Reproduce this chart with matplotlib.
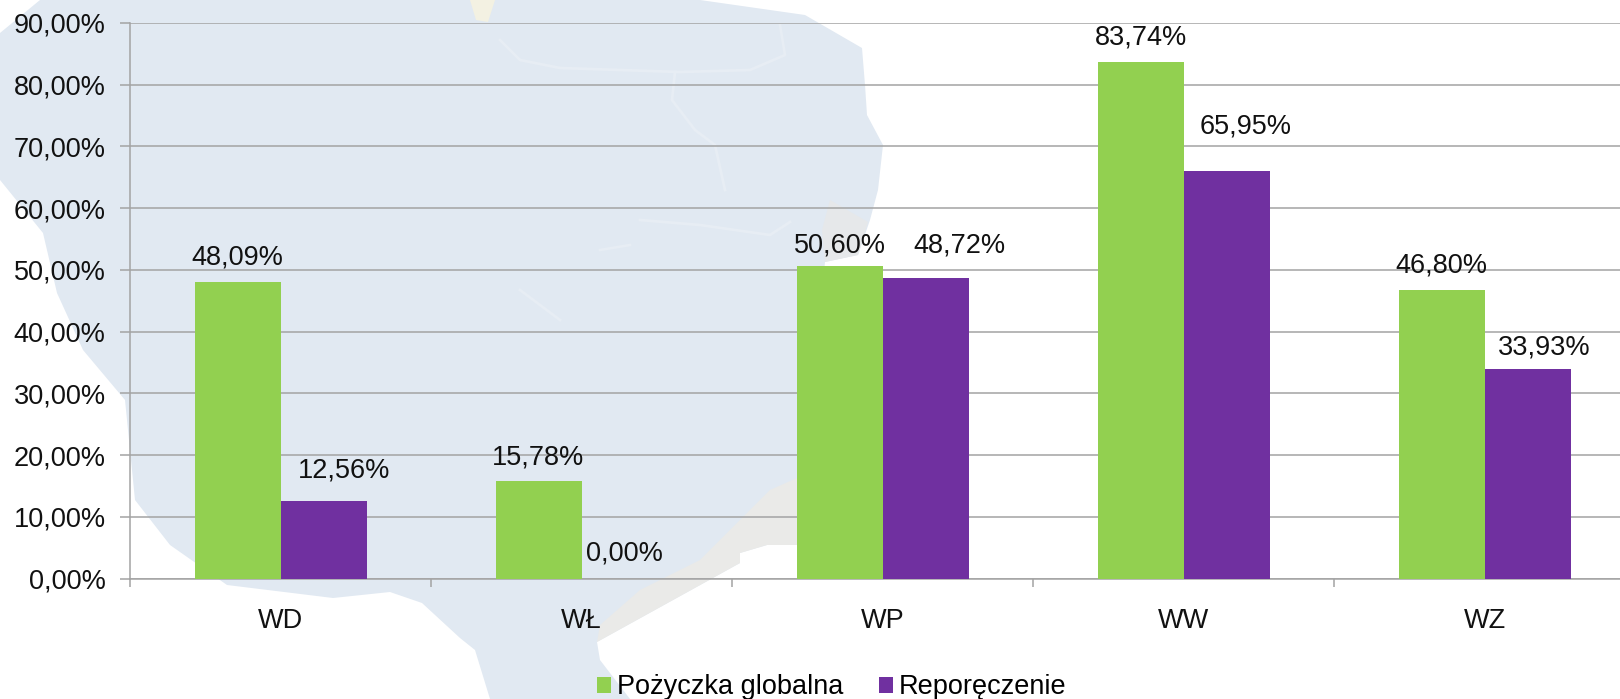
# coding=utf-8
import numpy as np
import matplotlib
matplotlib.use('Agg')
import matplotlib.pyplot as plt
from matplotlib.patches import Polygon

plt.rcParams['font.family'] = ['Liberation Sans', 'DejaVu Sans']

categories = ['WD', 'WŁ', 'WP', 'WW', 'WZ']
pozyczka = [48.09, 15.78, 50.60, 83.74, 46.80]
reporeczenie = [12.56, 0.00, 48.72, 65.95, 33.93]
y_ticks = [0, 10, 20, 30, 40, 50, 60, 70, 80, 90]

# label offsets in px from top centre of the bar (by eye)
off_poz = [(0, 17), (0, 17), (0, 14), (0, 17), (0, 17)]
off_rep = [(21, 23), (0, 18), (34, 25), (19, 38), (17, 15)]

# map in the background, figure pixels
map_outline = [(40, 0), (700, 0), (805, 15), (862, 48), (865, 85), (867, 115), (883, 145),
               (878, 190), (870, 220), (858, 255), (825, 262), (812, 400), (797, 480),
               (797, 545), (767, 545), (740, 553), (740, 563), (597, 642), (600, 660),
               (630, 699), (490, 699), (475, 650), (460, 638), (422, 603), (390, 592),
               (333, 598), (227, 585), (170, 545), (135, 500), (125, 400), (83, 350),
               (57, 293), (43, 233), (0, 180), (0, 33)]
map_shade = [(597, 642), (740, 563), (740, 553), (767, 545), (797, 545), (797, 478),
             (770, 490), (700, 560), (640, 590), (600, 625)]
map_shade2 = [(825, 262), (858, 255), (868, 222), (830, 200), (822, 230)]
map_top = [(470, 0), (495, 0), (488, 22), (476, 20)]
rivers = [[(500, 40), (520, 60), (560, 68), (620, 70), (680, 72), (750, 70), (785, 55), (780, 25)],
          [(675, 72), (672, 100), (695, 130), (715, 145), (725, 190)],
          [(640, 220), (700, 225), (770, 235), (790, 222)],
          [(600, 250), (630, 245)],
          [(520, 290), (560, 320)]]

fig = plt.figure(figsize=(16.2, 6.99), dpi=100)

bg = fig.add_axes([0, 0, 1, 1], zorder=0)
bg.set_xlim(0, 1620)
bg.set_ylim(699, 0)
bg.axis('off')
bg.add_patch(Polygon(map_outline, closed=True, fc='#E1E9F2', ec='none'))
bg.add_patch(Polygon(map_shade, closed=True, fc='#EAEAE8', ec='none'))
bg.add_patch(Polygon(map_shade2, closed=True, fc='#E6E8EA', ec='none'))
bg.add_patch(Polygon(map_top, closed=True, fc='#F3F1E2', ec='none'))
for r in rivers:
    bg.plot([p[0] for p in r], [p[1] for p in r], color='#E7EDF4', lw=2)

ax = fig.add_axes([130 / 1620, 1 - 578.5 / 699, 1490 / 1620, 555.5 / 699], zorder=1)
ax.patch.set_alpha(0)

x = np.arange(len(categories))
w = 86 / 301.0
bars1 = ax.bar(x - w / 2, pozyczka, w, color='#92D050', label='Pożyczka globalna', zorder=3)
bars2 = ax.bar(x + w / 2, reporeczenie, w, color='#7030A0', label='Reporęczenie', zorder=3)

ax.set_xlim(-0.5, -0.5 + 1490 / 301.0)
ax.set_ylim(0, 90)
ax.set_yticks(y_ticks)
ax.set_yticklabels(['%d,00%%' % t for t in y_ticks], fontsize=19.5, color='#111111')
ax.set_xticks(x)
ax.set_xticklabels(categories, fontsize=19.5, color='#111111')
ax.xaxis.set_minor_locator(plt.FixedLocator(np.arange(-0.5, 5, 1)))

grey = '#A3A3A3'
ax.grid(axis='y', color=grey, lw=1.1, zorder=1)
ax.set_axisbelow(True)
for s in ['top', 'right']:
    ax.spines[s].set_visible(False)
for s in ['left', 'bottom']:
    ax.spines[s].set_color(grey)
    ax.spines[s].set_linewidth(1.1)
ax.tick_params(axis='y', length=7, width=1.1, color=grey, pad=10.5)
ax.tick_params(axis='x', which='major', length=0, pad=21)
ax.tick_params(axis='x', which='minor', length=6, width=1.1, color=grey)


def label(bars, values, offsets):
    for b, v, o in zip(bars, values, offsets):
        txt = ('%.2f%%' % v).replace('.', ',')
        ax.annotate(txt, (b.get_x() + b.get_width() / 2, v),
                    xytext=(o[0] * 0.72, o[1] * 0.72), textcoords='offset points',
                    ha='center', va='baseline', fontsize=19.5, color='#111111', zorder=5)


label(bars1, pozyczka, off_poz)
label(bars2, reporeczenie, off_rep)

fig.legend(handles=[bars1, bars2], labels=['Pożyczka globalna', 'Reporęczenie'],
           ncol=2, loc='lower center', bbox_to_anchor=(832 / 1620, -0.029),
           frameon=False, fontsize=19.5, handlelength=0.52, handleheight=0.52,
           handletextpad=0.22, columnspacing=1.3, borderpad=0.2)

fig.savefig('out.png', dpi=100)
